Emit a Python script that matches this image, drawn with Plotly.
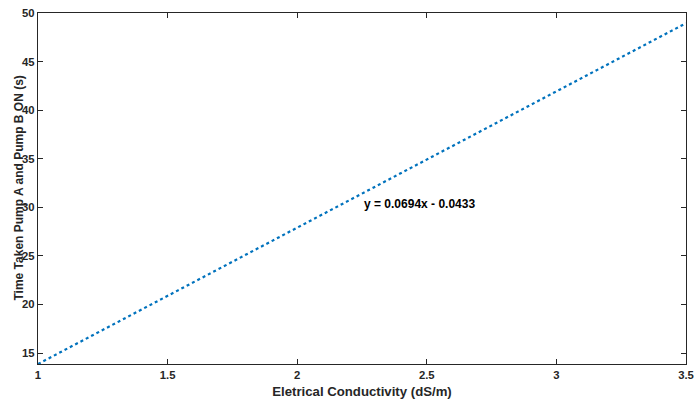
import plotly.graph_objects as go

# data
ec = [1.0, 3.5]
time_taken = [13.88, 48.95]
eq_text = "y = 0.0694x - 0.0433"
eq_pos = (2.47, 30.3)
x_ticks = [1, 1.5, 2, 2.5, 3, 3.5]
y_ticks = [15, 20, 25, 30, 35, 40, 45, 50]

family = "Liberation Sans, Arial, sans-serif"
fnt = dict(family=family, size=12, color="#262626", weight="bold")
tick_fnt = dict(family=family, size=11.3, color="#262626", weight="bold")

fig = go.Figure()
fig.add_trace(go.Scatter(x=ec, y=time_taken, mode="lines",
                         line=dict(color="#0072BD", width=2.2, dash="dot"),
                         showlegend=False, hoverinfo="skip"))

fig.add_annotation(x=eq_pos[0], y=eq_pos[1], text=eq_text, showarrow=False,
                   font=dict(family=family, size=12, color="black", weight="bold"))

fig.add_annotation(xref="paper", yref="paper", x=-20/648, y=0.5,
                   text="Time Taken Pump A and Pump B ON (s)", textangle=-90,
                   showarrow=False, xanchor="center", yanchor="middle",
                   font=fnt)

axis_common = dict(showgrid=False, zeroline=False, showline=True, linecolor="#262626",
                   linewidth=1.2, mirror="ticks", ticks="inside", ticklen=5,
                   tickcolor="#262626", tickfont=tick_fnt, automargin=False,
                   ticklabeloverflow="allow")

fig.update_xaxes(range=[1, 3.5], tickvals=x_ticks, ticktext=[f"{v:g}" for v in x_ticks],
                 title=dict(text="Eletrical Conductivity (dS/m)",
                            font=dict(family=family, size=13.2, color="#262626", weight="bold"),
                            standoff=7),
                 **axis_common)
fig.update_yaxes(range=[13.88, 50], tickvals=y_ticks, **axis_common)

fig.update_layout(template="none", width=694, height=403,
                  margin=dict(l=38, r=8, t=13, b=39, autoexpand=False),
                  plot_bgcolor="white", paper_bgcolor="white")

# remove the default page margin so the figure fills the window exactly
fig.write_html("out.html",
               config={"displayModeBar": False},
               post_script="document.body.style.margin='0';"
                           "document.documentElement.style.overflow='hidden';")
